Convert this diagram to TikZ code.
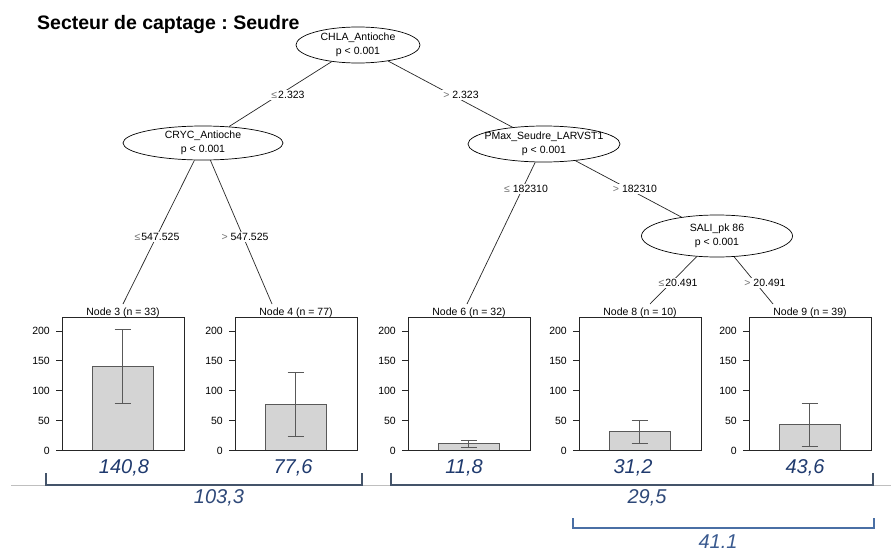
\documentclass[tikz,border=0pt]{standalone}
\usepackage{fontspec}
\setmainfont{Liberation Sans}
\usetikzlibrary{shapes.geometric}
\frenchspacing
\definecolor{navy}{HTML}{1F3A6E}
\definecolor{navymid}{HTML}{2E4878}
\definecolor{brk}{HTML}{44546A}
\definecolor{brklight}{HTML}{4A6FA5}
\definecolor{numlight}{HTML}{3A5A8F}
\newcommand{\leqs}{{\color{black!55}≤}}
\newcommand{\gts}{{\color{black!55}>}}
\newcommand{\termpanel}[6]{%
\begin{scope}[shift={(#1,0)}]
 \draw[bar] (30,450.5) rectangle (91,{450.5-#4*0.5975});
 \draw[panel] (0,317.5) rectangle (122,450.5);
 \foreach \v in {0,50,100,150,200}{
   \draw[panel] (-6,{450.5-\v*0.5975}) -- (0,{450.5-\v*0.5975});
   \node[ticklab] (#2t\v) at (-12,{450.5-\v*0.5975}) {\v};
 }
 \draw[errbar] (60.5,{450.5-#5*0.5975}) -- (60.5,{450.5-#6*0.5975});
 \draw[errbar] (52.5,{450.5-#5*0.5975}) -- (68.5,{450.5-#5*0.5975});
 \draw[errbar] (52.5,{450.5-#6*0.5975}) -- (68.5,{450.5-#6*0.5975});
 \node[nodelab] (#2lab) at (61,315) {#3};
\end{scope}}
\begin{document}
\begin{tikzpicture}[x=1pt,y=-1pt,
  splitnode/.style={ellipse, draw=black, line width=0.7pt, inner sep=0pt},
  splittext/.style={align=center, font=\fontsize{10.5}{14}\selectfont, inner sep=0pt},
  edge/.style={draw=black!85, line width=0.7pt},
  edgelab/.style={fill=white, inner sep=1pt, font=\fontsize{10.5}{12}\selectfont},
  nodelab/.style={anchor=base, inner sep=0pt, font=\fontsize{10.5}{12}\selectfont},
  panel/.style={draw=black!85, line width=0.8pt},
  bar/.style={fill=black!17, draw=black!65, line width=0.8pt},
  errbar/.style={draw=black!65, line width=0.8pt},
  ticklab/.style={anchor=east, inner sep=0pt, font=\fontsize{10.5}{12}\selectfont},
  value/.style={anchor=base, inner sep=0pt, text=navy, font=\fontsize{20}{24}\selectfont\itshape},
  bracket/.style={draw=brk, line width=1.3pt},
]
\useasboundingbox (0,0) rectangle (891,551);

\node[anchor=base west, inner sep=0pt, font=\fontsize{19.5}{22}\selectfont\bfseries] (title) at (37,30) {Secteur de captage : Seudre};

% split nodes
\node[splitnode, minimum width=124pt, minimum height=36pt] (chla) at (358,45) {};
\node[splittext] (chlat) at (chla) {CHLA\_Antioche\\p < 0.001};
\node[splitnode, minimum width=160pt, minimum height=34pt] (cryc) at (203,143) {};
\node[splittext] (cryct) at (cryc) {CRYC\_Antioche\\p < 0.001};
\node[splitnode, minimum width=152pt, minimum height=36pt] (pmax) at (544,144) {};
\node[splittext] (pmaxt) at (pmax) {PMax\_Seudre\_LARVST1\\p < 0.001};
\node[splitnode, minimum width=151pt, minimum height=42pt] (sali) at (717,236) {};
\node[splittext] (salit) at (sali) {SALI\_pk 86\\p < 0.001};

% terminal ends
\coordinate (e3) at (123,304);
\coordinate (e4) at (272,304);
\coordinate (e6) at (467,304);
\coordinate (e8) at (650,304);
\coordinate (e9) at (773,304);

% edges
\draw[edge] (chla) -- (cryc);
\draw[edge] (chla) -- (pmax);
\draw[edge] (cryc) -- (e3);
\draw[edge] (cryc) -- (e4);
\draw[edge] (pmax) -- (e6);
\draw[edge] (pmax) -- (sali);
\draw[edge] (sali) -- (e8);
\draw[edge] (sali) -- (e9);

% edge labels
\node[edgelab] (l1) at (288,95) {\leqs\kern1pt 2.323};
\node[edgelab] (l2) at (461,95) {\gts\ 2.323};
\node[edgelab] (l3) at (157,237) {\leqs\kern1pt 547.525};
\node[edgelab] (l4) at (245,237) {\gts\ 547.525};
\node[edgelab] (l5) at (526,189) {\leqs\ 182310};
\node[edgelab] (l6) at (635,189) {\gts\ 182310};
\node[edgelab] (l7) at (678,283) {\leqs\kern1pt 20.491};
\node[edgelab] (l8) at (765,283) {\gts\ 20.491};

% terminal panels
\termpanel{62}{n3}{Node 3 (n = 33)}{140.8}{79}{202}
\termpanel{235}{n4}{Node 4 (n = 77)}{77.6}{23}{131}
\termpanel{408}{n6}{Node 6 (n = 32)}{11.8}{5.4}{17.6}
\termpanel{579}{n8}{Node 8 (n = 10)}{31.2}{11.5}{50}
\termpanel{749}{n9}{Node 9 (n = 39)}{43.6}{7.5}{79}

% gray separator and brackets
\draw[black!25, line width=0.8pt] (11,485) -- (891,485);
\draw[bracket] (46,473) -- (46,485) -- (362,485) -- (362,473);
\draw[bracket] (391,473) -- (391,485) -- (873,485) -- (873,473);
\draw[bracket, draw=brklight] (573,518) -- (573,528) -- (874,528) -- (874,518);

% values
\node[value] (v3) at (124,473) {140,8};
\node[value] (v4) at (293,473) {77,6};
\node[value] (v6) at (464,473) {11,8};
\node[value] (v8) at (633,473) {31,2};
\node[value] (v9) at (805,473) {43,6};
\node[value, text=navymid] (vl) at (219,503) {103,3};
\node[value, text=navymid] (vr) at (647,503) {29,5};
\node[value, text=numlight] (vs) at (718,548) {41.1};
\end{tikzpicture}
\end{document}
